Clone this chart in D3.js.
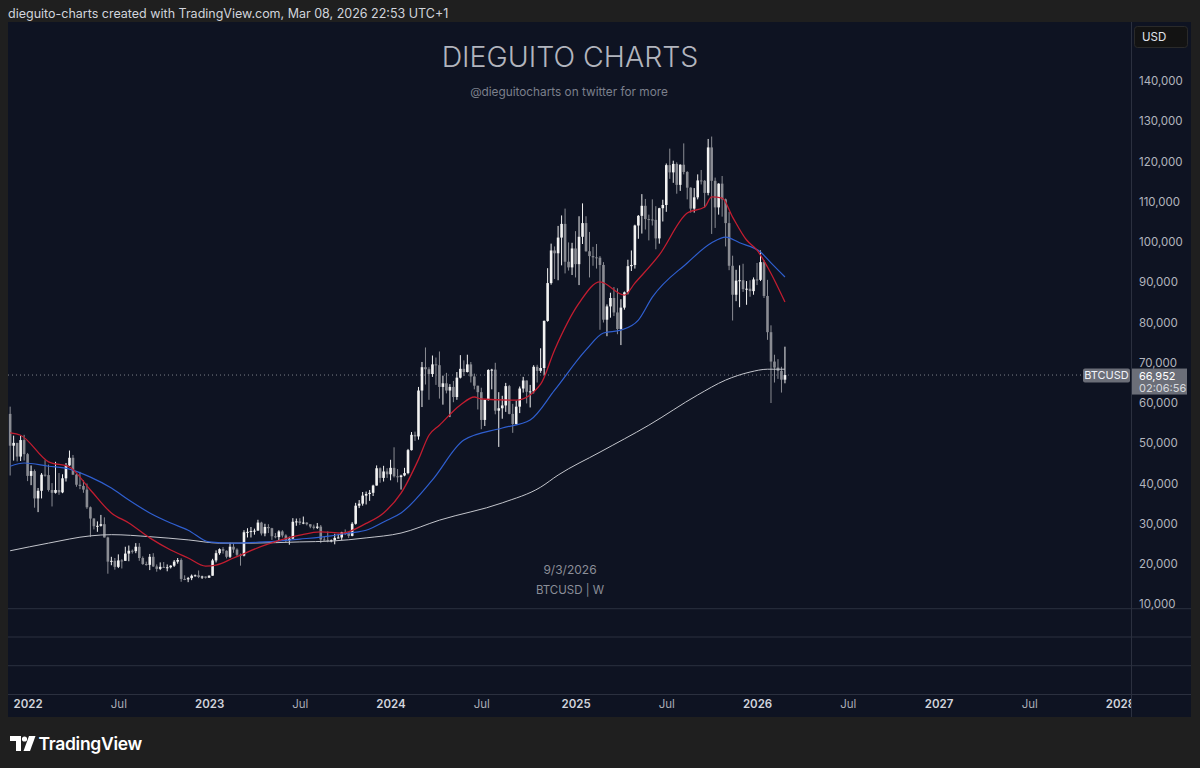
<!DOCTYPE html>
<html><head><meta charset="utf-8">
<script src="https://cdn.jsdelivr.net/npm/d3@7"></script>
<style>
html,body{margin:0;padding:0;background:#1f1f1f;}
svg{display:block;}
text{font-family:Inter,"Noto Sans",sans-serif;}
</style></head><body>
<svg id="chart" width="1200" height="768"></svg>
<script>
// ---- DATA (prices in thousands of USD) ----
const firstWeek = "2021-11-29";
const opens = [
57.3,49.4,50.1,46.7,50.8,47.3,41.9,43.1,36.3,38.2,
42.2,42.1,38.4,37.7,38.4,37.8,41.3,44.5,46.4,42.2,
39.7,39.4,38.5,34.1,31.3,29.4,29.5,29.9,26.6,20.6,
20.8,19.3,20.9,20.8,22.6,23.3,23.2,24.3,21.5,20.0,
19.8,21.8,19.4,18.8,19.3,19.1,19.2,19.6,20.6,21.0,
16.3,16.2,16.5,17.1,17.2,16.8,16.9,16.6,17.1,20.9,
22.7,23.7,23.3,21.8,24.3,23.6,22.3,22.1,27.9,28.0,
28.2,28.3,30.3,27.6,29.2,28.9,26.9,26.7,28.1,27.1,
25.9,26.3,30.5,30.6,30.2,30.3,29.9,29.3,29.0,29.3,
26.1,26.0,25.8,25.9,26.5,26.6,27.9,27.8,27.0,30.0,
34.5,35.0,37.0,37.4,37.7,39.5,43.8,41.4,43.0,42.3,
43.9,41.8,41.6,42.0,42.6,48.3,52.1,51.7,63.1,68.9,
68.4,67.2,69.6,69.4,64.0,64.9,63.1,64.0,61.5,66.3,
68.5,67.7,69.6,66.6,64.3,62.7,55.8,60.8,68.2,68.3,
58.1,58.7,59.4,64.2,57.3,54.8,59.1,63.6,65.6,62.8,
62.9,69.0,68.0,68.7,80.4,89.8,97.9,97.2,101.1,104.5,
95.1,93.7,98.4,94.5,101.3,104.7,97.7,96.5,96.2,96.1,
94.3,80.7,84.0,86.1,82.5,78.4,83.7,87.5,94.0,94.3,
104.1,106.5,109.0,105.7,105.6,105.5,100.9,108.4,109.2,119.1,
117.3,119.4,114.2,119.2,117.4,113.5,108.3,111.1,115.3,115.2,
112.2,123.5,115.2,108.6,114.5,110.6,104.7,94.1,86.9,90.4,
90.5,88.3,88.4,87.8,90.7,90.6,95.0,86.6,77.6,70.3,
68.8,68.0,65.8];
const highs = [
59.1,51.9,50.1,51.9,52.1,47.6,44.5,43.5,38.9,42.6,
45.8,44.7,40.1,45.4,42.6,42.3,45.1,48.2,47.1,42.4,
42.9,40.8,40.0,34.3,31.4,30.6,32.2,31.6,26.8,21.8,
21.5,22.4,21.2,24.3,24.6,23.6,25.2,25.2,21.9,20.6,
22.5,22.7,19.9,20.4,20.5,19.9,19.7,21.0,21.5,21.4,
17.2,16.8,17.4,17.4,18.4,17.1,16.9,17.2,21.3,23.4,
23.9,24.2,23.4,25.3,25.1,23.9,22.6,28.4,28.9,29.2,
28.8,31.0,30.5,30.0,29.9,29.0,27.7,28.4,28.4,27.4,
26.8,31.4,31.3,31.4,31.8,30.4,29.9,29.8,30.2,29.7,
26.8,28.1,26.1,27.5,27.5,28.0,28.6,27.9,30.4,35.2,
35.9,37.9,38.0,38.4,39.7,44.5,44.0,44.4,43.8,45.9,
49.0,43.6,42.2,43.9,48.6,52.8,52.9,64.0,70.2,73.8,
68.9,71.8,71.3,72.8,66.8,67.5,64.7,65.5,67.7,71.9,
70.6,72.0,70.2,67.3,64.3,63.8,61.0,68.4,68.5,70.0,
62.7,61.8,65.0,64.5,59.8,60.6,64.1,66.5,65.6,64.5,
69.4,69.5,73.6,80.5,93.5,99.6,98.9,104.0,106.6,108.3,
99.9,99.8,102.7,106.4,109.6,106.4,102.5,98.8,99.5,96.5,
95.0,84.5,87.4,88.8,88.5,85.8,87.7,95.6,97.9,104.3,
106.7,111.9,110.7,106.8,110.6,108.9,108.5,110.5,119.5,123.2,
120.2,119.8,119.3,124.5,117.6,113.6,113.4,116.8,117.9,115.4,
125.6,126.2,116.0,114.6,116.4,110.8,107.5,96.6,93.1,94.2,
94.6,90.3,90.5,91.2,94.8,97.9,95.5,90.6,79.3,72.0,
70.9,69.0,74.0];
const lows = [
42.0,45.7,45.5,45.6,45.7,40.6,39.6,34.0,32.9,36.3,
41.7,38.0,34.3,37.5,37.2,37.6,40.5,44.4,42.2,39.2,
38.6,37.7,33.7,26.7,28.6,28.0,29.3,26.6,17.6,19.7,
18.6,19.0,18.9,20.8,20.7,22.6,22.7,20.8,19.8,19.6,
18.5,19.3,18.1,18.5,19.1,18.2,18.9,19.3,20.1,15.6,
16.0,15.5,16.0,16.9,16.5,16.3,16.4,16.6,17.1,20.4,
22.3,22.6,21.4,21.5,22.8,21.9,19.6,21.9,26.6,26.6,
27.3,28.3,27.1,26.9,27.7,26.0,26.4,25.9,26.6,25.4,
24.8,26.3,29.5,29.7,29.9,29.6,28.9,28.6,28.7,25.2,
25.8,25.4,25.4,24.9,26.4,26.0,27.2,26.5,26.9,29.8,
33.9,34.5,34.8,35.7,36.9,39.5,40.2,40.5,41.4,40.8,
41.5,40.3,38.5,41.8,42.3,48.2,50.6,50.9,59.0,64.6,
60.8,66.5,64.5,61.1,59.6,62.4,56.5,60.2,60.8,66.1,
66.7,67.6,65.1,63.4,58.4,53.5,54.3,60.6,63.4,57.2,
49.1,56.1,57.8,57.2,52.6,54.6,57.5,62.6,59.9,58.9,
62.4,65.1,67.5,66.8,80.2,89.4,90.8,90.5,94.2,92.2,
92.9,91.8,91.2,89.3,99.5,97.6,91.2,94.1,93.4,78.2,
80.0,76.6,81.2,81.6,77.1,74.4,83.2,87.0,92.8,93.4,
100.8,102.1,103.1,100.4,104.1,98.2,99.6,105.1,107.5,115.7,
114.7,112.0,112.7,116.8,110.6,107.3,107.3,110.6,114.3,108.6,
111.6,102.0,103.5,106.8,106.3,98.9,93.0,80.5,85.3,83.8,
87.6,84.4,86.4,86.9,89.3,90.3,86.1,75.7,60.0,65.1,
66.0,62.6,64.9];
const closes = [
49.4,50.1,46.7,50.8,47.3,41.9,43.1,36.3,38.2,42.2,
42.1,38.4,37.7,38.4,37.8,41.3,44.5,46.4,42.2,39.7,
39.4,38.5,34.1,31.3,29.4,29.5,29.9,26.6,20.6,20.8,
19.3,20.9,20.8,22.6,23.3,23.2,24.3,21.5,20.0,19.8,
21.8,19.4,18.8,19.3,19.1,19.2,19.6,20.6,21.0,16.3,
16.2,16.5,17.1,17.2,16.8,16.9,16.6,17.1,20.9,22.7,
23.7,23.3,21.8,24.3,23.6,22.3,22.1,27.9,28.0,28.2,
28.3,30.3,27.6,29.2,28.9,26.9,26.7,28.1,27.1,25.9,
26.3,30.5,30.6,30.2,30.3,29.9,29.3,29.0,29.3,26.1,
26.0,25.8,25.9,26.5,26.6,27.9,27.8,27.0,30.0,34.5,
35.0,37.0,37.4,37.7,39.5,43.8,41.4,43.0,42.3,43.9,
41.8,41.6,42.0,42.6,48.3,52.1,51.7,63.1,68.9,68.4,
67.2,69.6,69.4,64.0,64.9,63.1,64.0,61.5,66.3,68.5,
67.7,69.6,66.6,64.3,62.7,55.8,60.8,68.2,68.3,58.1,
58.7,59.4,64.2,57.3,54.8,59.1,63.6,65.6,62.8,62.9,
69.0,68.0,68.7,80.4,89.8,97.9,97.2,101.1,104.5,95.1,
93.7,98.4,94.5,101.3,104.7,97.7,96.5,96.2,96.1,94.3,
80.7,84.0,86.1,82.5,78.4,83.7,87.5,94.0,94.3,104.1,
106.5,109.0,105.7,105.6,105.5,100.9,108.4,109.2,119.1,117.3,
119.4,114.2,119.2,117.4,113.5,108.3,111.1,115.3,115.2,112.2,
123.5,115.2,108.6,114.5,110.6,104.7,94.1,86.9,90.4,90.5,
88.3,88.4,87.8,90.7,90.6,95.0,86.6,77.6,70.3,68.8,
68.0,65.8,66.952];

// Moving averages (date, value in thousands)
const emaRedDates = ["2021-11-29","2021-12-20","2022-02-14","2022-03-28","2022-05-09","2022-06-20","2022-07-25","2022-09-05","2022-10-17","2022-11-21","2022-12-26","2023-01-16","2023-02-20","2023-04-24","2023-07-03","2023-08-14","2023-09-25","2023-11-13","2023-12-18","2024-01-22","2024-02-26","2024-03-18","2024-04-08","2024-05-20","2024-06-17","2024-07-01","2024-09-09","2024-10-28","2024-11-25","2025-01-13","2025-02-24","2025-04-14","2025-05-05","2025-06-23","2025-08-18","2025-09-22","2025-10-06","2025-10-27","2025-11-17","2025-12-15","2026-01-05","2026-01-26","2026-03-02"];
const emaRedValues = [52.6,52.0,45.4,44.1,38.4,32.7,30.2,26.5,23.5,21.5,19.5,19.75,21.5,24.7,27.2,28.0,27.7,30.1,32.7,37.6,46.0,52.0,54.5,59.5,61.5,61.0,60.7,64.7,73.2,84.8,90.1,86.8,89.8,96.8,107.2,108.7,111.2,110.9,106.2,100.5,98.0,93.8,85.1];
const maBlueDates = ["2021-11-29","2021-12-27","2022-02-14","2022-03-28","2022-05-09","2022-06-20","2022-07-25","2022-09-05","2022-10-17","2022-11-21","2023-01-02","2023-02-20","2023-04-24","2023-07-03","2023-09-04","2023-10-09","2023-11-13","2023-12-25","2024-01-22","2024-03-25","2024-05-27","2024-08-12","2024-10-07","2024-11-25","2025-01-27","2025-03-03","2025-04-07","2025-05-12","2025-06-09","2025-08-18","2025-10-06","2025-11-03","2025-12-01","2026-01-12","2026-02-02","2026-03-02"];
const maBlueValues = [44.3,45.1,44.3,43.6,41.6,38.9,35.9,32.7,30.2,28.4,25.5,25.2,25.5,26.2,27.0,27.7,28.4,30.9,32.7,40.9,50.8,53.8,55.8,63.2,73.2,77.4,78.1,80.6,86.3,94.8,99.8,101.2,99.8,97.5,94.8,91.3];
const maWhiteDates = ["2021-11-29","2022-02-14","2022-05-09","2022-06-20","2022-09-05","2022-11-21","2023-01-23","2023-03-27","2023-07-03","2023-09-04","2023-11-13","2024-01-22","2024-04-08","2024-08-12","2024-10-28","2024-12-02","2025-02-24","2025-06-02","2025-09-08","2025-11-03","2025-12-22","2026-01-26","2026-03-02"];
const maWhiteValues = [23.3,25.2,27.0,27.3,26.8,26.0,25.2,25.2,25.5,25.7,26.5,27.7,30.9,35.2,39.1,42.1,47.8,54.5,62.0,65.7,67.7,68.4,68.4];

const priceTicks = [10,20,30,40,50,60,70,80,90,100,110,120,130,140];
const timeTickDates = ["2022-01-03","2022-07-04","2023-01-02","2023-07-03","2024-01-01","2024-07-01","2025-01-06","2025-07-07","2026-01-05","2026-07-06","2027-01-04","2027-07-05","2028-01-03"];
const timeTickLabels = ["2022","Jul","2023","Jul","2024","Jul","2025","Jul","2026","Jul","2027","Jul","2028"];
const lastPrice = 66.952;
const countdown = "02:06:56";

// ---- LAYOUT ----
const parse = d3.utcParse("%Y-%m-%d");
const svg = d3.select("#chart");
const P = {l:8, t:22, r:1191, b:717, axisX:1131, paneB:608.7, timeT:694.5};
const x = d3.scaleUtc().domain([parse("2022-01-03"), parse("2028-01-03")]).range([27.6, 1120]);
const y = d3.scaleLinear().domain([10, 140]).range([604.3, 81]);
const fmt = d3.format(",");

svg.append("rect").attr("width",1200).attr("height",768).attr("fill","#1f1f1f");
svg.append("rect").attr("x",P.l).attr("y",P.t).attr("width",P.r-P.l).attr("height",P.b-P.t).attr("fill","#0e1322");

// header
svg.append("text").attr("x",8).attr("y",14).attr("dy","0.35em").attr("font-size",12.5).attr("fill","#d1d4dc")
  .text("dieguito-charts created with TradingView.com, Mar 08, 2026 22:53 UTC+1");

// watermarks
svg.append("text").attr("x",570).attr("y",57).attr("dy","0.35em").attr("text-anchor","middle")
  .attr("font-size",28.5).attr("font-weight",300).attr("fill","#b2b5be").text("DIEGUITO CHARTS");
svg.append("text").attr("x",569).attr("y",92).attr("dy","0.35em").attr("text-anchor","middle")
  .attr("font-size",11.8).attr("fill","#7c808c").text("@dieguitocharts on twitter for more");
svg.append("text").attr("x",570).attr("y",570).attr("dy","0.35em").attr("text-anchor","middle")
  .attr("font-size",12).attr("fill","#8b8e98").text("9/3/2026");
svg.append("text").attr("x",570).attr("y",590).attr("dy","0.35em").attr("text-anchor","middle")
  .attr("font-size",11.5).attr("fill","#8b8e98").text("BTCUSD | W");

// clip for main pane
svg.append("clipPath").attr("id","pane").append("rect").attr("x",P.l).attr("y",P.t).attr("width",P.axisX-P.l).attr("height",P.paneB-P.t);
svg.append("clipPath").attr("id","timeclip").append("rect").attr("x",P.l).attr("y",P.timeT).attr("width",P.axisX-P.l).attr("height",P.b-P.timeT);

// last price dotted line
svg.append("line").attr("x1",P.l).attr("x2",P.axisX).attr("y1",y(lastPrice)).attr("y2",y(lastPrice))
  .attr("stroke","#7d808a").attr("stroke-width",1).attr("stroke-dasharray","1,3");

const g = svg.append("g").attr("clip-path","url(#pane)");
const candles = d3.range(opens.length).map(i => ({
  d: d3.utcMonday.offset(parse(firstWeek), i), o: opens[i], h: highs[i], l: lows[i], c: closes[i]
}));
const UP = "#f2f2f2", DOWN = "#8a8c93";
g.selectAll("line.wick").data(candles).join("line").attr("class","wick")
  .attr("x1",d=>x(d.d)).attr("x2",d=>x(d.d)).attr("y1",d=>y(d.h)).attr("y2",d=>y(d.l))
  .attr("stroke",d=>d.c>=d.o?UP:DOWN).attr("stroke-width",1);
g.selectAll("rect.body").data(candles).join("rect").attr("class","body")
  .attr("x",d=>x(d.d)-1.3).attr("width",2.6)
  .attr("y",d=>y(Math.max(d.o,d.c))).attr("height",d=>Math.max(1,Math.abs(y(d.o)-y(d.c))))
  .attr("fill",d=>d.c>=d.o?UP:DOWN);

function maLine(dates, vals, color, w){
  const pts = dates.map((s,i)=>[parse(s), vals[i]]);
  g.append("path").datum(pts).attr("fill","none").attr("stroke",color).attr("stroke-width",w)
   .attr("d", d3.line().x(p=>x(p[0])).y(p=>y(p[1])).curve(d3.curveMonotoneX));
}
maLine(maWhiteDates, maWhiteValues, "#c3c5cc", 1);
maLine(maBlueDates, maBlueValues, "#2f5fd0", 1.2);
maLine(emaRedDates, emaRedValues, "#c21d30", 1.3);

// pane separators
[P.paneB, 637, 665.7, P.timeT].forEach(yy=>{
  svg.append("line").attr("x1",P.l).attr("x2",P.r).attr("y1",yy).attr("y2",yy).attr("stroke","#2b303f").attr("stroke-width",1);
});
svg.append("line").attr("x1",P.axisX+0.5).attr("x2",P.axisX+0.5).attr("y1",P.t).attr("y2",P.b).attr("stroke","#2b303f");

// price axis
const yAxis = d3.axisRight(y).tickValues(priceTicks).tickSize(0).tickPadding(0).tickFormat(v=>fmt(v*1000));
const ya = svg.append("g").attr("transform",`translate(1139,0)`).call(yAxis);
ya.select(".domain").remove();
ya.selectAll("text").attr("font-size",11.5).attr("fill","#b2b5be").attr("font-family","Inter,'Noto Sans',sans-serif");

// time axis
const tickDates = timeTickDates.map(parse);
const xAxis = d3.axisBottom(x).tickValues(tickDates).tickSize(0).tickPadding(0)
  .tickFormat((d,i)=>timeTickLabels[i]);
const xa = svg.append("g").attr("clip-path","url(#timeclip)").append("g").attr("transform",`translate(0,700)`).call(xAxis);
xa.select(".domain").remove();
xa.selectAll("text").attr("font-size",11.5).attr("font-family","Inter,'Noto Sans',sans-serif")
  .attr("fill",(d,i)=>timeTickLabels[i]==="Jul"?"#a9acb5":"#d1d4dc")
  .attr("font-weight",(d,i)=>timeTickLabels[i]==="Jul"?400:600);

// USD box
svg.append("rect").attr("x",1134.5).attr("y",26.5).attr("width",53).attr("height",21).attr("rx",3).attr("fill","#131313").attr("stroke","#2a2a2a");
svg.append("text").attr("x",1142).attr("y",37).attr("dy","0.35em").attr("font-size",11.5).attr("fill","#e0e3eb").text("USD");

// BTCUSD label + price box
const ly = y(lastPrice);
svg.append("rect").attr("x",1083).attr("y",ly-6.5).attr("width",47).attr("height",14).attr("rx",2).attr("fill","#6b6e78");
svg.append("text").attr("x",1106.5).attr("y",ly+0.5).attr("dy","0.35em").attr("text-anchor","middle").attr("font-size",11).attr("fill","#f0f3fa").text("BTCUSD");
svg.append("rect").attr("x",1132).attr("y",ly-6.5).attr("width",55).attr("height",26).attr("fill","#6b6e78");
svg.append("text").attr("x",1139).attr("y",ly+1).attr("dy","0.35em").attr("font-size",11).attr("fill","#ffffff").text(fmt(Math.round(lastPrice*1000)));
svg.append("text").attr("x",1139).attr("y",ly+13).attr("dy","0.35em").attr("font-size",11).attr("fill","#d6d8de").text(countdown);

// TradingView logo
const logo = svg.append("g").attr("fill","#ffffff");
logo.append("path").attr("d","M10,736 H21 V751 H16 V741 H10 Z");
logo.append("circle").attr("cx",24.5).attr("cy",739).attr("r",2.6);
logo.append("path").attr("d","M29,736 H35.5 L30,751 H23.5 Z");
svg.append("text").attr("x",38.5).attr("y",743.5).attr("dy","0.35em").attr("font-size",17.5).attr("font-weight",600)
  .attr("fill","#ffffff").attr("letter-spacing","-0.3").text("TradingView");
</script>
</body></html>
